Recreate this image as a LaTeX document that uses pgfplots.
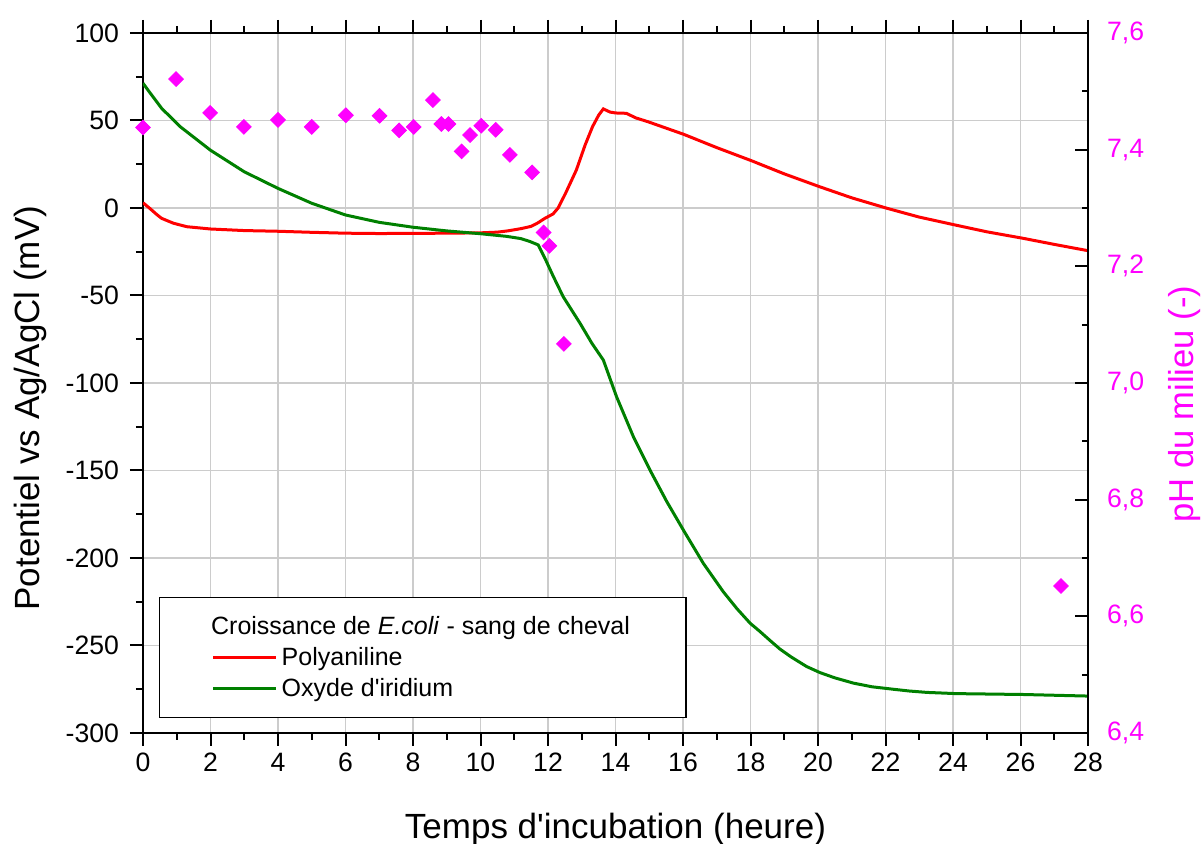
\documentclass[border=0pt]{standalone}
\usepackage{fontspec}
\setmainfont{Liberation Sans}
\newfontfamily\nolig{Liberation Sans}
\usepackage{pgfplots}
\pgfplotsset{compat=1.18}
\definecolor{pgreen}{RGB}{0,128,0}
\definecolor{pred}{RGB}{255,0,0}
\definecolor{pmag}{RGB}{255,0,255}
\definecolor{gridc}{RGB}{204,204,204}

\begin{document}
\begin{tikzpicture}
\begin{axis}[
  name=ax, at={(0,0)}, anchor=south west,
  scale only axis, width=472.5pt, height=350pt,
  xmin=0, xmax=28, ymin=-300, ymax=100,
  xtick={0,2,...,28}, ytick={-300,-250,...,100},
  minor x tick num=1, minor y tick num=1,
  tick align=outside,
  xtick pos=both, xticklabel pos=lower, ytick pos=left,
  major tick length=6.5pt, minor tick length=3.5pt,
  every tick/.style={black, line width=1pt},
  axis line style={line width=1pt},
  grid=major, major grid style={gridc, line width=0.75pt},
  /pgf/number format/assume math mode=true,
  ticklabel style={font=\fontsize{13.3}{16}\selectfont},
  yticklabel style={xshift=-2pt},
  xlabel={Temps d{\nolig '}incubation (heure)},
  ylabel={Potentiel vs Ag/AgCl (mV)},
  label style={font=\fontsize{17.5}{20}\selectfont},
  xlabel style={at={(axis description cs:0.5,0)}, anchor=base, yshift=-52.5pt},
  ylabel style={at={(axis description cs:-0.109,0.464)}, anchor=base, rotate=0},
  legend cell align=left,
  legend image code/.code={\draw[#1] (0pt,0pt) -- (31.5pt,0pt);},
  legend style={at={(axis description cs:0.0169,0.1943)}, anchor=north west,
    draw=black, line width=0.75pt, font=\fontsize{12.5}{15}\selectfont,
    inner xsep=26pt, inner ysep=6.5pt, row sep=-0.5pt,
    nodes={text height=10pt, text depth=2pt}},
]
\addlegendimage{empty legend}
\addlegendentry{\hspace*{-35.3pt}Croissance de \textit{E.coli} - sang de cheval}
\addplot[pred, line width=1.5pt] coordinates {
(0,3.0) (0.2,-0.2) (0.4,-3.6) (0.55,-5.9) (0.9,-8.7) (1.3,-10.7) (2,-12) (3,-12.9)
(4,-13.3) (5,-13.9) (6,-14.4) (7,-14.6) (8,-14.5) (9,-14.4) (10,-14.2) (10.5,-13.8)
(10.8,-13.1) (11.2,-11.8) (11.5,-10.5) (11.7,-8.5) (11.9,-6.0) (12.15,-3.4) (12.3,0)
(12.52,8.4) (12.84,21.7) (13.1,36) (13.32,46.5) (13.5,53) (13.64,56.6) (13.84,54.8)
(14.0,54.3) (14.32,54.1) (14.6,51.5) (14.96,49.3) (16.02,42.1) (17,34.5) (18.03,27.0)
(19,19.5) (20.04,12.2) (21,5.8) (22.05,-0.2) (23,-5.2) (24.06,-9.7) (25,-13.6)
(26.07,-17.3) (27,-20.8) (28,-24.4)
};
\addlegendentry{Polyaniline}
\addplot[pgreen, line width=1.5pt] coordinates {
(0,71.3) (0.2,66) (0.55,57) (1.1,46.5) (1.5,40.5) (2,33) (3,20.7) (4,11.2) (5,2.7)
(6,-4) (7,-8.2) (8,-11) (9,-13.1) (10,-14.7) (10.77,-16.2) (11.2,-17.5) (11.47,-19.2)
(11.71,-21.1) (11.91,-28.8) (12.16,-39.2) (12.45,-50.7) (12.95,-65.9) (13.3,-77.3)
(13.64,-86.9) (14.03,-107.8) (14.53,-130.7) (15.02,-149.7) (15.52,-167.8) (16.01,-184)
(16.6,-203) (17.19,-219.2) (17.6,-229) (17.99,-237.3) (18.28,-242) (18.6,-247.5)
(18.87,-252) (19.2,-256.5) (19.66,-262) (20.06,-265.5) (20.5,-268.5) (21.05,-271.5)
(21.6,-273.6) (22.23,-275) (22.7,-276) (23.22,-276.8) (24.1,-277.5) (26.08,-278)
(28,-278.9)
};
\addlegendentry{Oxyde d{\nolig '}iridium}
\end{axis}

\begin{axis}[
  at={(0,0)}, anchor=south west,
  scale only axis, width=472.5pt, height=350pt,
  xmin=0, xmax=28, ymin=6.4, ymax=7.6,
  axis x line=none, axis y line=right,
  y axis line style={-, line width=1pt},
  ytick={6.4,6.6,6.8,7.0,7.2,7.4,7.6},
  minor y tick num=1,
  ytick align=inside,
  major tick length=6.5pt, minor tick length=3pt,
  every tick/.style={black, line width=1pt},
  /pgf/number format/assume math mode=true,
  yticklabel style={font=\fontsize{13.3}{16}\selectfont, color=pmag, anchor=west, xshift=6pt,
    /pgf/number format/.cd, fixed, fixed zerofill, precision=1, use comma},
  ylabel={pH du milieu (-)},
  ylabel style={font=\fontsize{17.3}{20}\selectfont, color=pmag,
    at={(axis description cs:1.1111,0.47)}, anchor=base, rotate=0},
]
\addplot[only marks, mark=square*, mark size=2.6pt,
  mark options={rotate=45, fill=pmag, draw=pmag}, color=pmag] coordinates {
(0,7.438) (0.98,7.521) (1.99,7.463) (2.99,7.439) (4.0,7.451) (5.0,7.439) (6.01,7.459)
(7.01,7.458) (7.59,7.433) (8.02,7.439) (8.59,7.485) (8.84,7.444) (9.05,7.444)
(9.44,7.397) (9.69,7.425) (10.02,7.441) (10.45,7.434) (10.87,7.391) (11.53,7.361)
(11.87,7.258) (12.04,7.235) (12.47,7.067) (27.2,6.652)
};
\end{axis}
\pgfresetboundingbox
\path (-71.5pt,-55.5pt) rectangle (530pt,366.5pt);
\end{tikzpicture}
\end{document}
